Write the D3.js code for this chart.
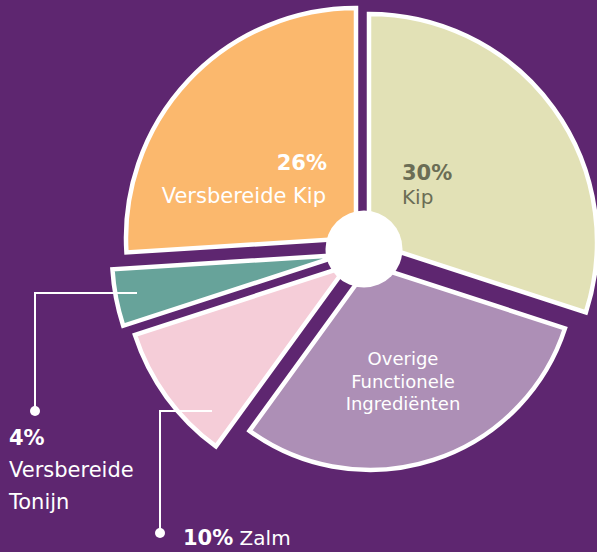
<!DOCTYPE html>
<html>
<head>
<meta charset="utf-8">
<script src="https://cdn.jsdelivr.net/npm/d3@7"></script>
<style>
  html, body { margin: 0; padding: 0; background: #5e2670; }
  svg { display: block; font-family: "DejaVu Sans", "Open Sans", sans-serif; }
</style>
</head>
<body>
<svg id="chart" width="597" height="552"></svg>
<script>
// slice data, clockwise from 12 o'clock
const names = ['Kip', 'Overige Functionele Ingrediënten', 'Zalm', 'Versbereide Tonijn', 'Versbereide Kip'];
const shares = [30, 30, 10, 4, 26];
const colors = ['#e2e1b6', '#ad8fb6', '#f5cdd8', '#67a39a', '#fbb86d'];
// every slice is pulled out and sized a bit differently in the original
const outerR = [228, 205, 223, 229, 230];
const shiftX = [5, 6, -17, -23, -8];
const shiftY = [-7, 16, 17, 6, -11];

const svg = d3.select('#chart');
const cx = 364, cy = 249;

svg.append('rect').attr('width', 597).attr('height', 552).attr('fill', '#5e2670');

const pie = d3.pie().sort(null).value(d => d)(shares);
const g = svg.append('g').attr('transform', `translate(${cx},${cy})`);

g.selectAll('path.slice')
  .data(pie)
  .join('path')
  .attr('class', 'slice')
  .attr('d', (d, i) => d3.arc().innerRadius(0).outerRadius(outerR[i])(d))
  .attr('transform', (d, i) => `translate(${shiftX[i]},${shiftY[i]})`)
  .attr('fill', (d, i) => colors[i])
  .attr('stroke', '#fff')
  .attr('stroke-width', 4.5)
  .attr('stroke-linejoin', 'miter');

g.append('circle').attr('r', 38.5).attr('fill', '#fff');

// labels inside slices
const inside = svg.append('g');
inside.append('text').attr('x', 402).attr('y', 180)
  .attr('font-size', 21).attr('font-weight', 700).attr('fill', '#6b6d55').text(shares[0] + '%');
inside.append('text').attr('x', 402).attr('y', 204)
  .attr('font-size', 20).attr('fill', '#6b6d55').text(names[0]);

inside.append('text').attr('x', 327).attr('y', 170).attr('text-anchor', 'end')
  .attr('font-size', 21).attr('font-weight', 700).attr('fill', '#fff').text(shares[4] + '%');
inside.append('text').attr('x', 326).attr('y', 203).attr('text-anchor', 'end')
  .attr('font-size', 21).attr('fill', '#fff').text(names[4]);

['Overige', 'Functionele', 'Ingrediënten'].forEach((t, i) => {
  inside.append('text').attr('x', 403).attr('y', 365 + i * 22.5).attr('text-anchor', 'middle')
    .attr('font-size', 18).attr('fill', '#fff').text(t);
});

// leader lines
const lines = svg.append('g').attr('stroke', '#fff').attr('stroke-width', 2).attr('fill', 'none');
lines.append('path').attr('d', 'M137,293H35V411');
lines.append('path').attr('d', 'M212,411H160V533');
svg.append('circle').attr('cx', 35).attr('cy', 411).attr('r', 5).attr('fill', '#fff');
svg.append('circle').attr('cx', 160).attr('cy', 533).attr('r', 5).attr('fill', '#fff');

svg.append('text').attr('x', 9).attr('y', 445)
  .attr('font-size', 21).attr('font-weight', 700).attr('fill', '#fff').text(shares[3] + '%');
svg.append('text').attr('x', 9).attr('y', 477).attr('font-size', 21).attr('fill', '#fff').text('Versbereide');
svg.append('text').attr('x', 9).attr('y', 509).attr('font-size', 21).attr('fill', '#fff').text('Tonijn');

const z = svg.append('text').attr('x', 183).attr('y', 545).attr('fill', '#fff');
z.append('tspan').attr('font-size', 21).attr('font-weight', 700).text(shares[2] + '%');
z.append('tspan').attr('font-size', 20).text(' ' + names[2]);
</script>
</body>
</html>
